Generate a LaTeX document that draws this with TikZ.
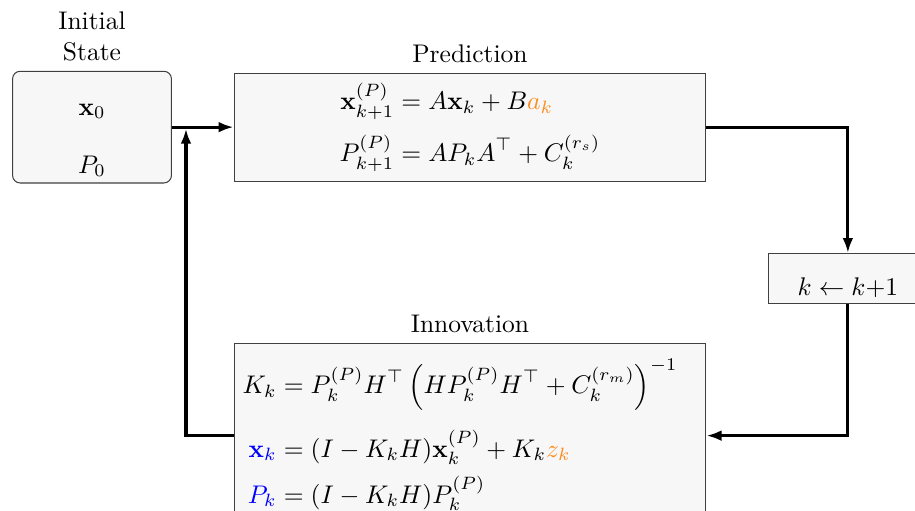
\documentclass[tikz,border=0pt]{standalone}
\usepackage{amsmath}
\usepackage{amssymb}
\usepackage{xcolor}
\usepackage{tikz}
\usetikzlibrary{arrows.meta, calc}
\definecolor{kforange}{RGB}{255,140,30}
\tikzset{
    blk/.style={draw=black!75, fill=black!3, thin, inner sep=0.333em},
    initblk/.style={blk, rounded corners=3pt, minimum width=2.19cm, minimum height=1.54cm},
    predblk/.style={blk, minimum width=6.5cm, minimum height=1.49cm, align=center},
    innoblk/.style={blk, text width=6.27cm, align=left, inner ysep=6pt},
    stepblk/.style={blk, minimum width=2.2cm, text height=13pt, text depth=0pt},
    bd/.style={>={Latex[length=5.9pt, width=4.2pt]}, very thick}
}

\begin{document}
\begin{tikzpicture}[bd]
    \useasboundingbox (0,0) rectangle (12.61,7.03);
    \node[initblk, label={[align=center]above:Initial\\State}] (init) at (1.268,5.278) {};
    \node[anchor=base] (x0) at (1.268,5.443) {$\mathbf{x}_0$};
    \node[anchor=base] (p0) at (1.268,4.644) {$P_0$};
    \node[predblk, label=above:Prediction] (pred) at (6.477,5.278) {$\begin{aligned}
        \mathbf{x}_{k+1}^{(P)} &= A\mathbf{x}_k + B\textcolor{kforange}{a_k}\\[2pt]
        P_{k+1}^{(P)} &= A P_k A^\top + C_k^{(r_s)}
    \end{aligned}$};
    \node[stepblk] (inc) at (11.685,3.19) {$k \leftarrow k{+}1$};
    \node[innoblk, anchor=north, label=above:Innovation] (inno) at (6.477,2.301) {$\begin{aligned}
        K_k &= P_k^{(P)} H^\top \left( H P_k^{(P)} H^\top + C_k^{(r_m)} \right)^{-1}\\[4pt]
        \textcolor{blue}{\mathbf{x}_k} &= (I - K_k H)\mathbf{x}_k^{(P)} + K_k \textcolor{kforange}{z_k}\\
        \textcolor{blue}{P_k} &= (I - K_k H) P_k^{(P)}
    \end{aligned}$};
    \coordinate (jn) at (2.563,5.278);

    \draw[->] (init) -- (pred);
    \draw[->] (pred) -| (inc);
    \draw[->] (inc) |- (inno);
    \draw[->, shorten >=0.6pt] (inno) -| (jn);
\end{tikzpicture}
\end{document}
